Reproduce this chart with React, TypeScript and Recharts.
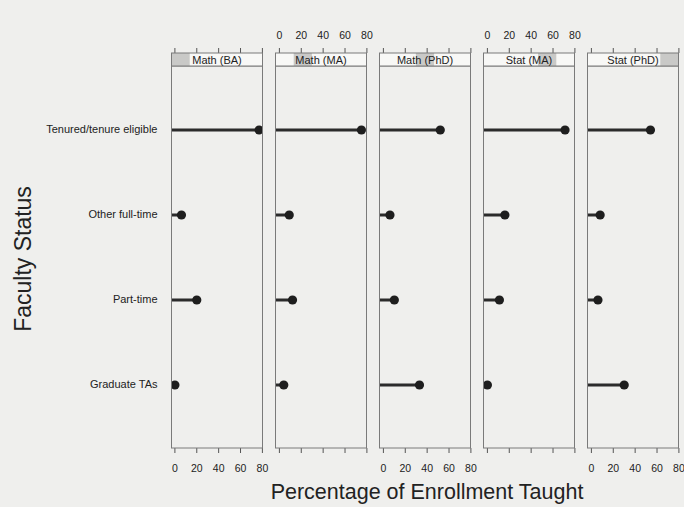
import React from 'react';
import { BarChart, Bar, XAxis, YAxis } from 'recharts';

const statuses = ['Tenured/tenure eligible', 'Other full-time', 'Part-time', 'Graduate TAs'];
const programs = ['Math (BA)', 'Math (MA)', 'Math (PhD)', 'Stat (MA)', 'Stat (PhD)'];
const mathBA = [77, 6, 20, 0];
const mathMA = [75, 9, 12, 4];
const mathPhD = [52, 6, 10, 33];
const statMA = [71, 16, 11, 0];
const statPhD = [54, 8, 6, 30];
const xTicks = [0, 20, 40, 60, 80];

const series = [mathBA, mathMA, mathPhD, statMA, statPhD];

// lattice-style limits: data range padded 4% each side
const X_MIN = -3.1;
const X_MAX = 80.1;

const FONT = '"Liberation Sans", Arial, Helvetica, sans-serif';
const BG = '#efefed';
const INK = '#222';
const FRAME = '#7a7a7a';

const PANEL_W = 91;
const PANEL_STEP = 104;
const FIRST_LEFT = 171.5;
const PLOT_TOP = 66;
const PLOT_BOTTOM = 448;
const STRIP_H = 13;

// stem from the left edge of the panel out to the value, with a dot on the end
const Lollipop = (props: any) => {
  const { x, y, width, height } = props;
  const cy = y + height / 2;
  return (
    <g>
      <line x1={x} y1={cy} x2={x + width} y2={cy} stroke="#2b2b2b" strokeWidth={3} />
      <circle cx={x + width} cy={cy} r={4.6} fill="#1e1e1e" />
    </g>
  );
};

const makeTick = (side: 'top' | 'bottom', labelled: boolean) => (props: any) => {
  const { x, payload } = props;
  const y0 = side === 'top' ? PLOT_TOP - STRIP_H - 5 : PLOT_BOTTOM;
  const y1 = side === 'top' ? PLOT_TOP - STRIP_H : PLOT_BOTTOM + 5;
  const ty = side === 'top' ? 39 : 472;
  return (
    <g>
      <line x1={x} y1={y0} x2={x} y2={y1} stroke="#555" strokeWidth={1} />
      {labelled && (
        <text x={x} y={ty} textAnchor="middle" fontSize={10.5} fill={INK} fontFamily={FONT}>
          {payload.value}
        </text>
      )}
    </g>
  );
};

function Panel({ index }: { index: number }) {
  const first = index === 0;
  const plotLeft = FIRST_LEFT + index * PANEL_STEP;
  const width = (first ? plotLeft : 10) + PANEL_W + 10;
  const data = statuses.map((s, i) => ({
    status: s,
    value: series[index][i],
    stem: [X_MIN, series[index][i]],
  }));
  // axis labels alternate between bottom (odd panels) and top (even panels)
  const bottomLabels = index % 2 === 0;

  return (
    <div style={{ position: 'absolute', left: first ? 0 : plotLeft - 10, top: 0 }}>
      <BarChart
        width={width}
        height={507}
        data={data}
        layout="vertical"
        margin={{ top: PLOT_TOP - 20, bottom: 507 - PLOT_BOTTOM - 20, left: first ? 0 : 10, right: 10 }}
      >
        <XAxis
          xAxisId="bottom"
          type="number"
          orientation="bottom"
          domain={[X_MIN, X_MAX]}
          ticks={xTicks}
          allowDataOverflow
          height={20}
          axisLine={false}
          tickLine={false}
          tick={makeTick('bottom', bottomLabels)}
        />
        <XAxis
          xAxisId="top"
          type="number"
          orientation="top"
          domain={[X_MIN, X_MAX]}
          ticks={xTicks}
          allowDataOverflow
          height={20}
          axisLine={false}
          tickLine={false}
          tick={makeTick('top', !bottomLabels)}
        />
        <YAxis
          type="category"
          dataKey="status"
          width={first ? plotLeft : 0}
          hide={!first}
          padding={{ top: 21, bottom: 21 }}
          axisLine={false}
          tickLine={false}
          tickSize={0}
          tickMargin={14}
          tick={{ fontSize: 11, fill: INK, fontFamily: FONT }}
        />
        <Bar
          xAxisId="bottom"
          dataKey="stem"
          barSize={8}
          shape={<Lollipop />}
          isAnimationActive={false}
        />
      </BarChart>
    </div>
  );
}

export default function App() {
  return (
    <div
      style={{
        position: 'absolute',
        left: 0,
        top: 0,
        width: 684,
        height: 507,
        background: BG,
        fontFamily: FONT,
        overflow: 'hidden',
      }}
    >
      {programs.map((_, i) => (
        <Panel key={i} index={i} />
      ))}
      <svg
        width={684}
        height={507}
        style={{ position: 'absolute', left: 0, top: 0, pointerEvents: 'none' }}
      >
        {programs.map((p, i) => {
          const left = FIRST_LEFT + i * PANEL_STEP;
          const seg = PANEL_W / programs.length;
          return (
            <g key={p}>
              {/* panel frame */}
              <rect
                x={left}
                y={PLOT_TOP}
                width={PANEL_W}
                height={PLOT_BOTTOM - PLOT_TOP}
                fill="none"
                stroke={FRAME}
                strokeWidth={1}
              />
              {/* strip with the level indicator shaded */}
              <rect x={left} y={PLOT_TOP - STRIP_H} width={PANEL_W} height={STRIP_H} fill="#f8f8f6" />
              <rect x={left + i * seg} y={PLOT_TOP - STRIP_H} width={seg} height={STRIP_H} fill="#c9c9c7" />
              <rect
                x={left}
                y={PLOT_TOP - STRIP_H}
                width={PANEL_W}
                height={STRIP_H}
                fill="none"
                stroke={FRAME}
                strokeWidth={1}
              />
              <text
                x={left + PANEL_W / 2}
                y={PLOT_TOP - 2.5}
                textAnchor="middle"
                fontSize={11}
                fill={INK}
                fontFamily={FONT}
              >
                {p}
              </text>
            </g>
          );
        })}
        <text
          x={427}
          y={499}
          textAnchor="middle"
          fontSize={21.5}
          fill={INK}
          fontFamily={FONT}
        >
          Percentage of Enrollment Taught
        </text>
        <text
          x={31}
          y={259}
          textAnchor="middle"
          fontSize={23}
          fill={INK}
          fontFamily={FONT}
          transform="rotate(-90 31 259)"
        >
          Faculty Status
        </text>
      </svg>
    </div>
  );
}
